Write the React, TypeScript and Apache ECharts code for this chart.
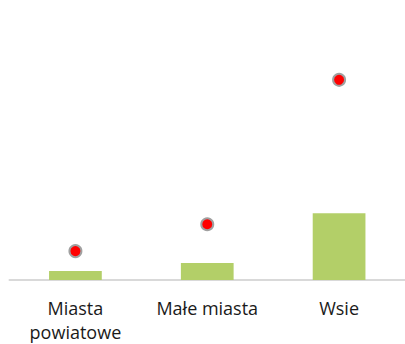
import React, { useEffect, useRef } from "react";
import * as echarts from "echarts";

const categories = ["Miasta\npowiatowe", "Małe miasta", "Wsie"];
const barValues = [3.6, 6.8, 26.8];
const dotValues = [11.6, 22.4, 80.4];

export default function App() {
  const ref = useRef<HTMLDivElement>(null);
  useEffect(() => {
    if (!ref.current) return;
    const chart = echarts.init(ref.current, null, { renderer: "svg" });
    chart.setOption({
      animation: false,
      backgroundColor: "#ffffff",
      grid: { left: 9.5, top: 31, width: 398.25, bottom: 63 },
      xAxis: {
        type: "category",
        data: categories,
        axisLine: { lineStyle: { color: "#d9d9d9", width: 2 } },
        axisTick: { show: false },
        axisLabel: {
          color: "#1a1a1a",
          fontFamily: "Open Sans",
          fontSize: 18,
          lineHeight: 24,
          margin: 16,
          interval: 0,
        },
      },
      yAxis: {
        type: "value",
        min: 0,
        max: 100,
        show: false,
        splitLine: { show: false },
      },
      series: [
        {
          type: "bar",
          data: barValues,
          barWidth: "40%",
          itemStyle: { color: "#b3cf68" },
        },
        {
          type: "scatter",
          data: dotValues,
          symbolSize: 12,
          itemStyle: { color: "#ff0000", borderColor: "#a0a0a0", borderWidth: 2, opacity: 1 },
        },
      ],
    });
    return () => chart.dispose();
  }, []);
  return (
    <div
      ref={ref}
      style={{ position: "fixed", left: 0, top: 0, width: 405, height: 344 }}
    />
  );
}
